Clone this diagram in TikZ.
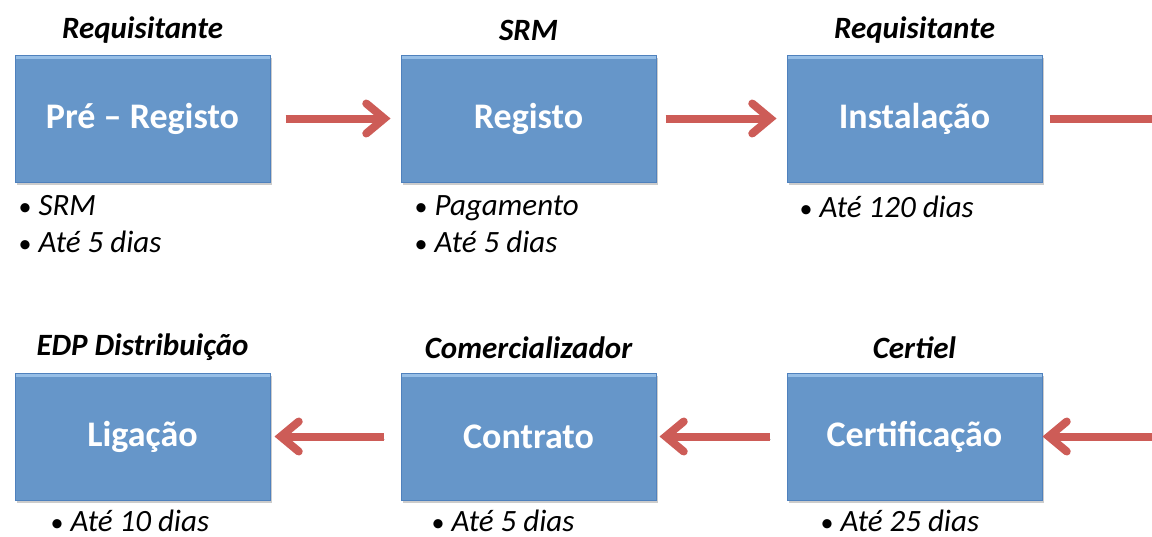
\documentclass[tikz,border=0pt]{standalone}
\usepackage{fontspec}
\setmainfont{Carlito}
\usepackage{tikz}
\usetikzlibrary{positioning,shadows,arrows.meta}
\definecolor{boxblue}{RGB}{102,150,201}
\definecolor{boxedge}{RGB}{79,129,189}
\definecolor{boxlight}{RGB}{150,190,230}
\definecolor{arrowred}{RGB}{205,92,87}
\newcommand{\dotitem}{{\fontsize{26}{26}\selectfont •}\hspace{7pt}}
\tikzstyle{stage} = [rectangle, minimum width=255pt, minimum height=127pt, text centered, fill=boxblue, draw=boxedge, line width=1pt, text=white, font=\bfseries\fontsize{36}{42}\selectfont, drop shadow={shadow xshift=1.5pt, shadow yshift=-3pt, opacity=0.4}, path picture={\fill[boxlight] (path picture bounding box.north west) rectangle ([yshift=-4pt]path picture bounding box.north east);}]
\tikzstyle{actor} = [inner sep=0pt, font=\bfseries\itshape\fontsize{31}{36}\selectfont]
\tikzstyle{notes} = [align=left, inner sep=0pt, font=\fontsize{31}{37}\selectfont]
\tikzstyle{flow} = [line width=8pt, draw=arrowred, -{Straight Barb[length=18pt,width=30pt,line cap=round]}, preaction={draw=black!18, transform canvas={xshift=1pt,yshift=-2.5pt}}]

\begin{document}
\begin{tikzpicture}
			\useasboundingbox [fill=white] (0,0) rectangle (1152pt,-536pt);
			\node (pre) [stage] at (142.5pt,-118.5pt) {Pré – Registo};
			\node (reg) [stage,right of=pre,node distance=386pt] {Registo};
			\node (inst) [stage,right of=reg,node distance=386pt] {Instalação};
			\node (cert) [stage,below of=inst,node distance=318pt] {Certificação};
			\node (con) [stage,left of=cert,node distance=386pt] {Contrato};
			\node (lig) [stage,left of=con,node distance=386pt] {Ligação};
			%-----------------------------------------------
			\node (prewho) [actor,above of=pre,node distance=88pt] {Requisitante};
			\node (regwho) [actor,above of=reg,node distance=88pt] {SRM};
			\node (instwho) [actor,above of=inst,node distance=88pt] {Requisitante};
			\node (certwho) [actor,above of=cert,node distance=89pt] {Certiel};
			\node (conwho) [actor,above of=con,node distance=89pt] {Comercializador};
			\node (ligwho) [actor,above of=lig,node distance=89pt] {EDP Distribuição};
			%-----------------------------------------------
			\node (prenote) [notes,below right=13pt and 4pt of pre.south west] {\dotitem\textit{SRM}\\\dotitem\textit{Até 5 dias}};
			\node (regnote) [notes,below right=13pt and 14pt of reg.south west] {\dotitem\textit{Pagamento}\\\dotitem\textit{Até 5 dias}};
			\node (instnote) [notes,below right=13pt and 13pt of inst.south west] {\dotitem\textit{Até 120 dias}};
			\node (certnote) [notes,below right=9pt and 34pt of cert.south west] {\dotitem\textit{Até 25 dias}};
			\node (connote) [notes,below right=9pt and 31pt of con.south west] {\dotitem\textit{Até 5 dias}};
			\node (lignote) [notes,below right=9pt and 36pt of lig.south west] {\dotitem\textit{Até 10 dias}};
			%-----------------------------------------------
			\draw [flow,shorten <=15pt,shorten >=10pt] (pre) -- (reg);
			\draw [flow,shorten <=9pt,shorten >=10pt] (reg) -- (inst);
			\draw [flow,shorten <=7pt] (inst.east) -- ++(115pt,0) |- (cert.east);
			\draw [flow,shorten <=17pt,shorten >=3pt] (cert) -- (con);
			\draw [flow,shorten <=17pt,shorten >=4pt] (con) -- (lig);
\end{tikzpicture}
\end{document}
